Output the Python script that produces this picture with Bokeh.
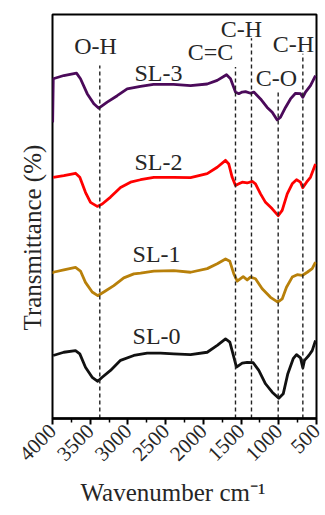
import math
from bokeh.plotting import figure
from bokeh.models import Range1d, Title, FixedTicker, ColumnDataSource
from bokeh.core.properties import value
from bokeh.embed import file_html
from bokeh.resources import INLINE

# FTIR spectra (wavenumber in cm-1, transmittance in %, stacked with offsets)
wn_sl3 = [3998, 3990, 3850, 3682, 3629, 3540, 3452, 3386, 3275, 3142, 3010, 2833, 2661, 2396,
          2170, 1949, 1816, 1693, 1640, 1574, 1530, 1485, 1441, 1375, 1331, 1242, 1154, 1087,
          1021, 977, 911, 845, 778, 712, 682, 646, 580, 513]
tr_sl3 = [73.3, 84.1, 84.9, 85.5, 84.1, 80.4, 77.9, 76.8, 78.3, 79.9, 81.6, 82.2, 82.7, 82.7,
          82.4, 82.8, 83.7, 85.1, 84.1, 80.8, 80.4, 80.8, 80.9, 80.5, 80.8, 79.1, 77.0, 75.8,
          73.9, 74.6, 77.0, 79.1, 80.5, 80.4, 79.5, 80.8, 82.4, 84.9]

wn_sl2 = [3991, 3850, 3695, 3638, 3563, 3496, 3407, 3341, 3231, 3098, 2966, 2833, 2657, 2392,
          2170, 1949, 1816, 1706, 1663, 1618, 1574, 1530, 1485, 1419, 1352, 1309, 1242, 1176,
          1087, 1008, 955, 888, 822, 765, 712, 682, 632, 580, 513]
tr_sl2 = [59.7, 60.1, 60.7, 59.7, 56.0, 53.5, 52.5, 53.1, 54.8, 57.2, 58.5, 59.1, 59.7, 59.7,
          59.6, 60.6, 62.2, 63.9, 63.0, 59.7, 57.7, 58.1, 58.5, 58.3, 58.7, 58.1, 55.6, 53.5,
          51.9, 50.2, 51.5, 55.6, 58.1, 59.1, 58.5, 57.1, 58.5, 59.7, 63.0]

wn_sl1 = [3998, 3991, 3850, 3695, 3629, 3563, 3474, 3400, 3320, 3187, 3055, 2922, 2833, 2657,
          2392, 2170, 1949, 1816, 1706, 1649, 1596, 1551, 1472, 1419, 1375, 1309, 1220, 1110,
          1013, 955, 898, 822, 756, 690, 623, 557, 513]
tr_sl1 = [35.8, 36.2, 36.8, 37.4, 36.5, 33.7, 31.3, 30.4, 31.3, 32.9, 34.8, 35.8, 36.0, 36.5,
          36.6, 36.2, 37.1, 38.3, 39.5, 38.9, 35.8, 34.0, 35.1, 34.3, 35.0, 34.6, 32.1, 30.0,
          28.8, 29.6, 32.5, 35.0, 35.6, 35.4, 36.2, 37.1, 38.7]

wn_sl0 = [3991, 3850, 3695, 3638, 3563, 3474, 3400, 3341, 3231, 3098, 2922, 2745, 2568, 2392,
          2170, 1949, 1816, 1706, 1649, 1596, 1561, 1485, 1419, 1339, 1265, 1176, 1087, 1000,
          941, 880, 809, 765, 712, 681, 659, 602, 557, 513]
tr_sl0 = [15.6, 16.4, 16.8, 16.0, 12.7, 10.2, 9.2, 10.2, 11.9, 14.4, 15.6, 16.2, 16.2, 16.0,
          15.8, 16.4, 18.1, 19.7, 18.9, 15.2, 12.7, 13.7, 13.9, 13.8, 11.9, 8.6, 6.5, 5.0,
          6.1, 11.1, 14.8, 15.8, 15.0, 12.5, 14.4, 15.6, 16.8, 19.3]

series_names = ["SL-3", "SL-2", "SL-1", "SL-0"]
series_colors = ["#4b0a5a", "#ff0000", "#b8800a", "#111111"]
series_label_x = [2595, 2595, 2620, 2620]
series_label_y = [85.6, 63.4, 40.8, 20.3]

# band assignments: position, top of marker line, label text and label anchor
band_wn = [3373, 1574, 1362, 1008, 681]
band_top = [87.4, 87.0, 94.1, 80.8, 90.3]
band_text = ["O-H", "C=C", "C-H", "C-O", "C-H"]
band_text_x = [3430, 1905, 1494, 1030, 805]
band_text_y = [92.3, 90.6, 96.5, 84.4, 92.8]

x_ticks = [4000, 3500, 3000, 2500, 2000, 1500, 1000, 500]
x_minor = [3750, 3250, 2750, 2250, 1750, 1250, 750]

FONT = "Liberation Serif"
TXT = "#262626"

p = figure(width=325, height=515, output_backend="svg", toolbar_location=None,
           x_range=Range1d(4000, 500), y_range=Range1d(0, 100),
           min_border_left=52, min_border_right=9, min_border_top=14, min_border_bottom=97)
p.background_fill_color = "white"
p.border_fill_color = "white"
p.grid.visible = False
p.outline_line_color = "black"
p.outline_line_width = 2
p.yaxis.visible = False

ax = p.xaxis[0]
ax.ticker = FixedTicker(ticks=x_ticks, minor_ticks=x_minor)
ax.axis_line_width = 2.5
ax.major_tick_line_width = 2
ax.minor_tick_line_width = 1.5
ax.major_tick_out = 6
ax.major_tick_in = 0
ax.minor_tick_out = 4
ax.minor_tick_in = 0
ax.major_label_orientation = math.pi / 4
ax.major_label_text_font = FONT
ax.major_label_text_font_size = "21px"
ax.major_label_text_color = TXT
ax.major_label_standoff = 3

data = [(wn_sl3, tr_sl3), (wn_sl2, tr_sl2), (wn_sl1, tr_sl1), (wn_sl0, tr_sl0)]
for (wx, ty), col in zip(data, series_colors):
    p.line(wx, ty, line_color=col, line_width=2.8, line_join="round")

for w, top in zip(band_wn, band_top):
    p.line([w, w], [0, top], line_color="#222222", line_width=1.4, line_dash="4 3")

lab_src = ColumnDataSource(dict(x=series_label_x, y=series_label_y, t=series_names))
p.text("x", "y", text="t", source=lab_src, text_font=value(FONT), text_font_size="24px",
       text_color=TXT, text_align="center", text_baseline="middle")

band_src = ColumnDataSource(dict(x=band_text_x, y=band_text_y, t=band_text))
p.text("x", "y", text="t", source=band_src, text_font=value(FONT), text_font_size="24px",
       text_color=TXT, text_align="center", text_baseline="middle")

# axis titles
p.add_layout(Title(text="Transmittance (%)", align="left", offset=88, standoff=14,
                   text_font=FONT, text_font_size="25px", text_font_style="normal",
                   text_color=TXT), "left")
p.add_layout(Title(text="Wavenumber cm\u207b\u00b9", align="left", offset=28, standoff=13,
                   text_font=FONT, text_font_size="25px", text_font_style="normal",
                   text_color=TXT), "below")

open("out.html", "w").write(file_html(p, INLINE))
